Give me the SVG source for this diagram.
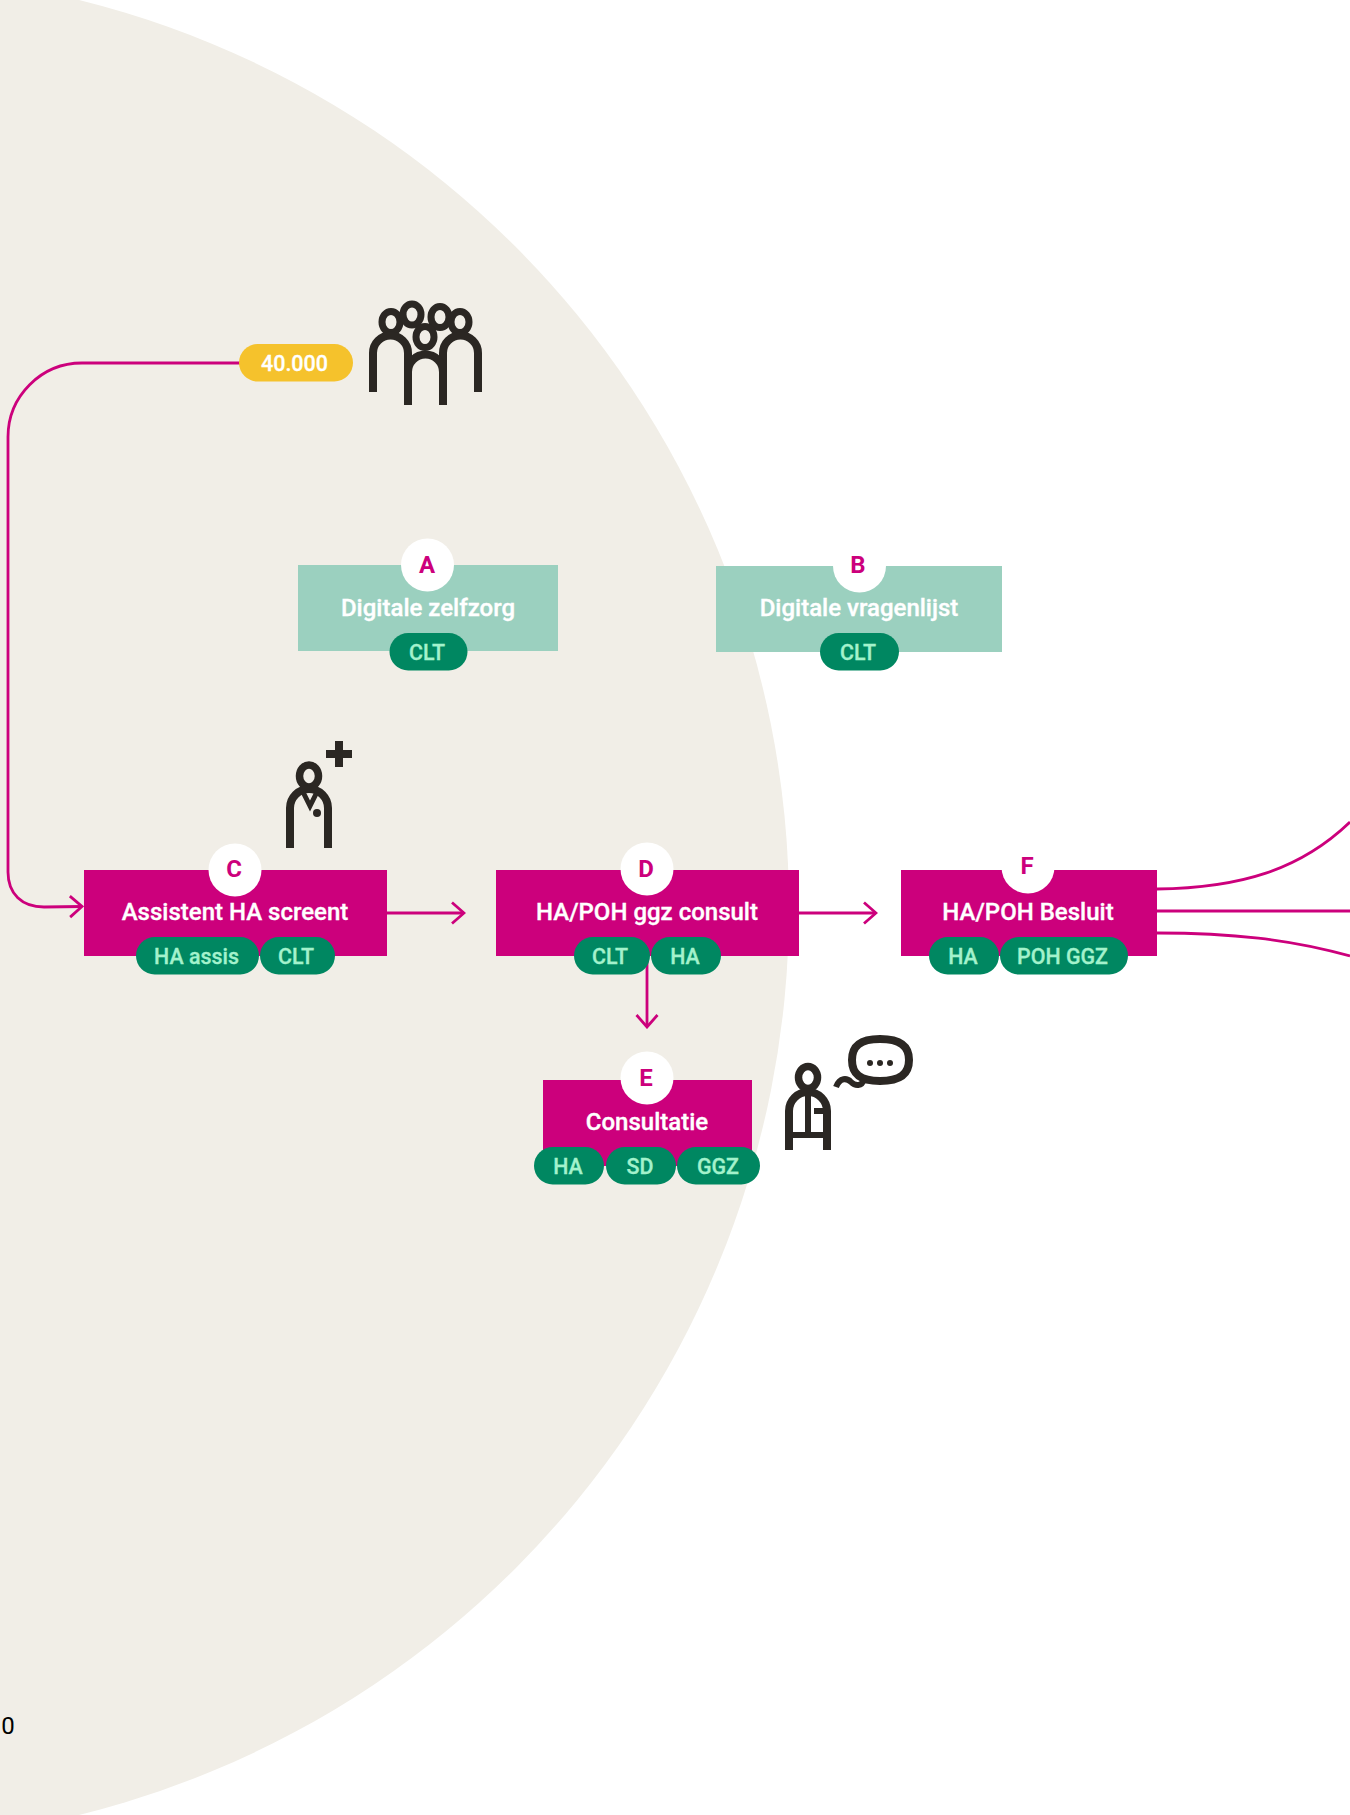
<svg xmlns="http://www.w3.org/2000/svg" width="1350" height="1815" viewBox="0 0 1350 1815">
<defs>
<marker id="arrow" markerUnits="userSpaceOnUse" markerWidth="16" markerHeight="26" refX="14" refY="12" orient="auto"><path d="M2,1.500 L14,12 L2,22.500" fill="none" stroke="#cc007c" stroke-width="2.800"/></marker>
</defs>
<style>
text{font-family:Roboto,"Liberation Sans",sans-serif;text-anchor:middle}
.box{fill:#cc007c}.lbox{fill:#9bd0bf}.disc{fill:#fff}
.title{fill:#fff;stroke:#fff;stroke-width:.35px;font-size:24px;font-weight:500}
.letter{fill:#cc007c;font-size:24px;font-weight:700}
.pill{fill:#008761}.ptext{fill:#a3f2cc;stroke:#a3f2cc;stroke-width:.3px;font-size:21.400px;font-weight:500}
.conn{fill:none;stroke:#cc007c;stroke-width:2.800}
.ico{fill:none;stroke:#2b2723;stroke-width:8}
.head{stroke-width:7.500}
.dark{fill:#2b2723}
</style>
<rect width="1350" height="1815" fill="#fff"/>
<circle cx="-146" cy="907.500" r="935" fill="#f1eee7"/>
<g id="connectors">
<path class="conn" d="M240,363 H82 A74,74 0 0 0 8,437 V872 C8,894 22,907 44,907 L82,906.500" marker-end="url(#arrow)"/>
<path class="conn" d="M387,913 H464" marker-end="url(#arrow)"/>
<path class="conn" d="M799,913 H876" marker-end="url(#arrow)"/>
<path class="conn" d="M647,956 V1027" marker-end="url(#arrow)"/>
<path class="conn" d="M1157,889 C1240,888 1300,870 1350,822"/>
<path class="conn" d="M1157,911 H1350"/>
<path class="conn" d="M1157,933 C1230,933 1290,939 1350,956"/>
</g>
<g id="count">
<rect x="239" y="344" width="114" height="37.500" rx="18.700" fill="#f5c22c"/>
<text x="294.500" y="371" fill="#fff" stroke="#fff" stroke-width=".3" font-size="21.500" font-weight="500">40.000</text>
</g>
<g id="icon-group">
<g class="ico">
<g class="head" style="stroke-width:7"><ellipse cx="391" cy="322" rx="9" ry="10.500"/><ellipse cx="412" cy="314.500" rx="9" ry="10.500"/><ellipse cx="440" cy="317" rx="9" ry="10.500"/><ellipse cx="460" cy="322" rx="9" ry="10.500"/><ellipse cx="425" cy="337" rx="9" ry="10.500"/></g>
<path d="M373,392 V353 A17.500,17.500 0 0 1 408,353 V405"/>
<path d="M443,405 V353 A17.500,17.500 0 0 1 478,353 V392"/>
<path d="M408,372 A17.500,17.500 0 0 1 443,372"/>
</g>
</g>
<g id="icon-doctor">
<g class="ico">
<ellipse class="head" cx="309" cy="776" rx="9.500" ry="11"/>
<path d="M290,848 V808 A19,19 0 0 1 328,808 V848"/>
<path d="M303,792 L310,806 L317,792" stroke-width="5"/>
<path d="M326,754 H352 M339,741 V767"/>
</g>
<circle class="dark" cx="317" cy="813" r="4"/>
</g>
<g id="icon-patient">
<g class="ico">
<ellipse class="head" cx="808" cy="1077.500" rx="9.500" ry="11"/>
<path d="M789,1150 V1111 A19,19 0 0 1 827,1111 V1150"/>
<path d="M785,1135 H831 M808,1092 V1135 M814,1111 H827" stroke-width="6"/>
<path d="M880,1039 C900,1039 909,1046 909,1060 C909,1074 900,1081 880,1081 C860,1081 852,1074 852,1060 C852,1046 860,1039 880,1039 Z"/>
<path d="M836,1087 C840,1077 847,1078 851,1082 C855,1086 862,1087 864,1079" stroke-width="6"/>
</g>
<circle class="dark" cx="870" cy="1063" r="3"/><circle class="dark" cx="880" cy="1063" r="3"/><circle class="dark" cx="890" cy="1063" r="3"/>
</g>
<g id="node-a">
<rect class="lbox" x="298" y="565" width="260" height="86"/>
<circle class="disc" cx="427.500" cy="565" r="26.500"/>
<text class="letter" x="427" y="573">A</text>
<text class="title" x="428" y="616">Digitale zelfzorg</text>
<rect class="pill" x="389.500" y="633" width="78" height="37.500" rx="18.700"/>
<text class="ptext" x="427" y="660">CLT</text>
</g>
<g id="node-b">
<rect class="lbox" x="716" y="566" width="286" height="86"/>
<circle class="disc" cx="859.500" cy="566" r="26.500"/>
<text class="letter" x="858" y="573">B</text>
<text class="title" x="859" y="616">Digitale vragenlijst</text>
<rect class="pill" x="820" y="633" width="79" height="37.500" rx="18.700"/>
<text class="ptext" x="858" y="660">CLT</text>
</g>
<g id="node-c">
<rect class="box" x="84" y="870" width="303" height="86"/>
<circle class="disc" cx="235" cy="870" r="26.500"/>
<text class="letter" x="234" y="877">C</text>
<text class="title" x="235" y="920">Assistent HA screent</text>
<rect class="pill" x="136" y="937" width="123" height="37.500" rx="18.700"/>
<text class="ptext" x="196.500" y="964">HA assis</text>
<rect class="pill" x="260" y="937" width="75" height="37.500" rx="18.700"/>
<text class="ptext" x="296" y="964">CLT</text>
</g>
<g id="node-d">
<rect class="box" x="496" y="870" width="303" height="86"/>
<circle class="disc" cx="647" cy="869" r="26.500"/>
<text class="letter" x="646" y="877">D</text>
<text class="title" x="647" y="920">HA/POH ggz consult</text>
<rect class="pill" x="574" y="937" width="76" height="37.500" rx="18.700"/>
<text class="ptext" x="610" y="964">CLT</text>
<rect class="pill" x="651" y="937" width="70" height="37.500" rx="18.700"/>
<text class="ptext" x="685" y="964">HA</text>
</g>
<g id="node-e">
<rect class="box" x="543" y="1080" width="209" height="86"/>
<circle class="disc" cx="647" cy="1078" r="26.500"/>
<text class="letter" x="646" y="1086">E</text>
<text class="title" x="647" y="1130">Consultatie</text>
<rect class="pill" x="534" y="1147" width="70" height="37.500" rx="18.700"/>
<text class="ptext" x="568" y="1174">HA</text>
<rect class="pill" x="606" y="1147" width="70" height="37.500" rx="18.700"/>
<text class="ptext" x="640" y="1174">SD</text>
<rect class="pill" x="677" y="1147" width="83" height="37.500" rx="18.700"/>
<text class="ptext" x="718" y="1174">GGZ</text>
</g>
<g id="node-f">
<rect class="box" x="901" y="870" width="256" height="86"/>
<circle class="disc" cx="1028" cy="867" r="26.500"/>
<text class="letter" x="1027" y="874">F</text>
<text class="title" x="1028" y="920">HA/POH Besluit</text>
<rect class="pill" x="929" y="937" width="70" height="37.500" rx="18.700"/>
<text class="ptext" x="963" y="964">HA</text>
<rect class="pill" x="1000" y="937" width="128" height="37.500" rx="18.700"/>
<text class="ptext" x="1062.500" y="964">POH GGZ</text>
</g>
<text x="8" y="1734" fill="#000" font-size="24">0</text>
</svg>
